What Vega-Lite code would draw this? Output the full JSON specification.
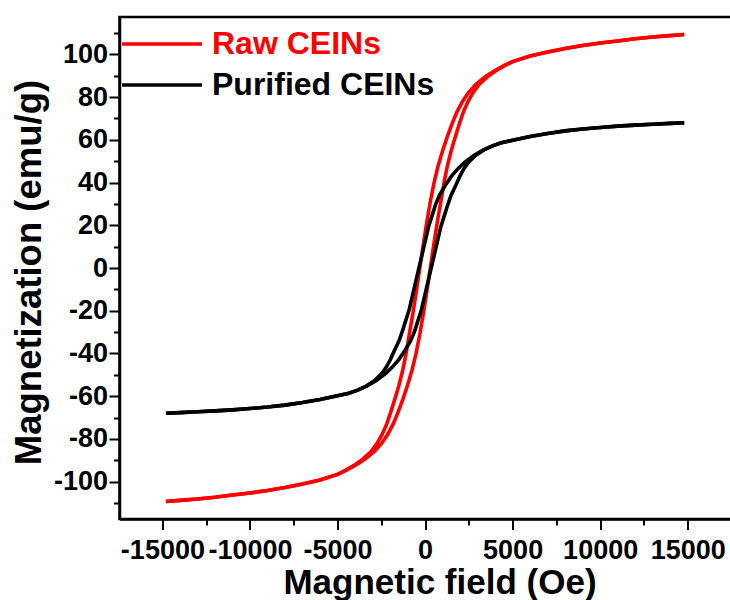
{
  "$schema": "https://vega.github.io/schema/vega-lite/v6.json",
  "width": 612,
  "height": 502,
  "autosize": {"type": "none"},
  "padding": {"left": 119.5, "top": 17, "right": 0, "bottom": 81},
  "background": "white",
  "config": {
    "font": "Liberation Sans",
    "view": {"stroke": "black", "strokeWidth": 2.5},
    "axis": {"grid": false, "domainColor": "black", "tickColor": "black", "labelColor": "black", "titleColor": "black"}
  },
  "datasets": {
    "loops": [
      {"s": "Raw CEINs", "b": "up", "H": -14800, "M": -109.3},
      {"s": "Raw CEINs", "b": "up", "H": -14000, "M": -108.8},
      {"s": "Raw CEINs", "b": "up", "H": -13000, "M": -108.1},
      {"s": "Raw CEINs", "b": "up", "H": -12000, "M": -107.3},
      {"s": "Raw CEINs", "b": "up", "H": -11000, "M": -106.3},
      {"s": "Raw CEINs", "b": "up", "H": -10000, "M": -105.3},
      {"s": "Raw CEINs", "b": "up", "H": -9000, "M": -104.2},
      {"s": "Raw CEINs", "b": "up", "H": -8000, "M": -102.8},
      {"s": "Raw CEINs", "b": "up", "H": -7000, "M": -101.1},
      {"s": "Raw CEINs", "b": "up", "H": -6000, "M": -99.2},
      {"s": "Raw CEINs", "b": "up", "H": -4995, "M": -96.6},
      {"s": "Raw CEINs", "b": "up", "H": -4485, "M": -94.6},
      {"s": "Raw CEINs", "b": "up", "H": -3965, "M": -92.3},
      {"s": "Raw CEINs", "b": "up", "H": -3440, "M": -89.5},
      {"s": "Raw CEINs", "b": "up", "H": -2905, "M": -86},
      {"s": "Raw CEINs", "b": "up", "H": -2470, "M": -82},
      {"s": "Raw CEINs", "b": "up", "H": -2140, "M": -78},
      {"s": "Raw CEINs", "b": "up", "H": -1815, "M": -73},
      {"s": "Raw CEINs", "b": "up", "H": -1540, "M": -67.5},
      {"s": "Raw CEINs", "b": "up", "H": -1270, "M": -61.5},
      {"s": "Raw CEINs", "b": "up", "H": -1005, "M": -55},
      {"s": "Raw CEINs", "b": "up", "H": -735, "M": -47.5},
      {"s": "Raw CEINs", "b": "up", "H": -515, "M": -40},
      {"s": "Raw CEINs", "b": "up", "H": -300, "M": -31},
      {"s": "Raw CEINs", "b": "up", "H": -100, "M": -21.5},
      {"s": "Raw CEINs", "b": "up", "H": 100, "M": -11},
      {"s": "Raw CEINs", "b": "up", "H": 300, "M": 0},
      {"s": "Raw CEINs", "b": "up", "H": 500, "M": 11},
      {"s": "Raw CEINs", "b": "up", "H": 700, "M": 21.5},
      {"s": "Raw CEINs", "b": "up", "H": 900, "M": 31},
      {"s": "Raw CEINs", "b": "up", "H": 1085, "M": 40},
      {"s": "Raw CEINs", "b": "up", "H": 1265, "M": 47.5},
      {"s": "Raw CEINs", "b": "up", "H": 1495, "M": 55},
      {"s": "Raw CEINs", "b": "up", "H": 1730, "M": 61.5},
      {"s": "Raw CEINs", "b": "up", "H": 1960, "M": 67.5},
      {"s": "Raw CEINs", "b": "up", "H": 2185, "M": 73},
      {"s": "Raw CEINs", "b": "up", "H": 2460, "M": 78},
      {"s": "Raw CEINs", "b": "up", "H": 2730, "M": 82},
      {"s": "Raw CEINs", "b": "up", "H": 3095, "M": 86},
      {"s": "Raw CEINs", "b": "up", "H": 3560, "M": 89.5},
      {"s": "Raw CEINs", "b": "up", "H": 4035, "M": 92.3},
      {"s": "Raw CEINs", "b": "up", "H": 4515, "M": 94.6},
      {"s": "Raw CEINs", "b": "up", "H": 5005, "M": 96.6},
      {"s": "Raw CEINs", "b": "up", "H": 6000, "M": 99.2},
      {"s": "Raw CEINs", "b": "up", "H": 7000, "M": 101.1},
      {"s": "Raw CEINs", "b": "up", "H": 8000, "M": 102.8},
      {"s": "Raw CEINs", "b": "up", "H": 9000, "M": 104.2},
      {"s": "Raw CEINs", "b": "up", "H": 10000, "M": 105.3},
      {"s": "Raw CEINs", "b": "up", "H": 11000, "M": 106.3},
      {"s": "Raw CEINs", "b": "up", "H": 12000, "M": 107.3},
      {"s": "Raw CEINs", "b": "up", "H": 13000, "M": 108.1},
      {"s": "Raw CEINs", "b": "up", "H": 14000, "M": 108.8},
      {"s": "Raw CEINs", "b": "up", "H": 14800, "M": 109.3},

      {"s": "Raw CEINs", "b": "down", "H": 14800, "M": 109.3},
      {"s": "Raw CEINs", "b": "down", "H": 14000, "M": 108.8},
      {"s": "Raw CEINs", "b": "down", "H": 13000, "M": 108.1},
      {"s": "Raw CEINs", "b": "down", "H": 12000, "M": 107.3},
      {"s": "Raw CEINs", "b": "down", "H": 11000, "M": 106.3},
      {"s": "Raw CEINs", "b": "down", "H": 10000, "M": 105.3},
      {"s": "Raw CEINs", "b": "down", "H": 9000, "M": 104.2},
      {"s": "Raw CEINs", "b": "down", "H": 8000, "M": 102.8},
      {"s": "Raw CEINs", "b": "down", "H": 7000, "M": 101.1},
      {"s": "Raw CEINs", "b": "down", "H": 6000, "M": 99.2},
      {"s": "Raw CEINs", "b": "down", "H": 4995, "M": 96.6},
      {"s": "Raw CEINs", "b": "down", "H": 4485, "M": 94.6},
      {"s": "Raw CEINs", "b": "down", "H": 3965, "M": 92.3},
      {"s": "Raw CEINs", "b": "down", "H": 3440, "M": 89.5},
      {"s": "Raw CEINs", "b": "down", "H": 2905, "M": 86},
      {"s": "Raw CEINs", "b": "down", "H": 2470, "M": 82},
      {"s": "Raw CEINs", "b": "down", "H": 2140, "M": 78},
      {"s": "Raw CEINs", "b": "down", "H": 1815, "M": 73},
      {"s": "Raw CEINs", "b": "down", "H": 1540, "M": 67.5},
      {"s": "Raw CEINs", "b": "down", "H": 1270, "M": 61.5},
      {"s": "Raw CEINs", "b": "down", "H": 1005, "M": 55},
      {"s": "Raw CEINs", "b": "down", "H": 735, "M": 47.5},
      {"s": "Raw CEINs", "b": "down", "H": 515, "M": 40},
      {"s": "Raw CEINs", "b": "down", "H": 300, "M": 31},
      {"s": "Raw CEINs", "b": "down", "H": 100, "M": 21.5},
      {"s": "Raw CEINs", "b": "down", "H": -100, "M": 11},
      {"s": "Raw CEINs", "b": "down", "H": -300, "M": 0},
      {"s": "Raw CEINs", "b": "down", "H": -500, "M": -11},
      {"s": "Raw CEINs", "b": "down", "H": -700, "M": -21.5},
      {"s": "Raw CEINs", "b": "down", "H": -900, "M": -31},
      {"s": "Raw CEINs", "b": "down", "H": -1085, "M": -40},
      {"s": "Raw CEINs", "b": "down", "H": -1265, "M": -47.5},
      {"s": "Raw CEINs", "b": "down", "H": -1495, "M": -55},
      {"s": "Raw CEINs", "b": "down", "H": -1730, "M": -61.5},
      {"s": "Raw CEINs", "b": "down", "H": -1960, "M": -67.5},
      {"s": "Raw CEINs", "b": "down", "H": -2185, "M": -73},
      {"s": "Raw CEINs", "b": "down", "H": -2460, "M": -78},
      {"s": "Raw CEINs", "b": "down", "H": -2730, "M": -82},
      {"s": "Raw CEINs", "b": "down", "H": -3095, "M": -86},
      {"s": "Raw CEINs", "b": "down", "H": -3560, "M": -89.5},
      {"s": "Raw CEINs", "b": "down", "H": -4035, "M": -92.3},
      {"s": "Raw CEINs", "b": "down", "H": -4515, "M": -94.6},
      {"s": "Raw CEINs", "b": "down", "H": -5005, "M": -96.6},
      {"s": "Raw CEINs", "b": "down", "H": -6000, "M": -99.2},
      {"s": "Raw CEINs", "b": "down", "H": -7000, "M": -101.1},
      {"s": "Raw CEINs", "b": "down", "H": -8000, "M": -102.8},
      {"s": "Raw CEINs", "b": "down", "H": -9000, "M": -104.2},
      {"s": "Raw CEINs", "b": "down", "H": -10000, "M": -105.3},
      {"s": "Raw CEINs", "b": "down", "H": -11000, "M": -106.3},
      {"s": "Raw CEINs", "b": "down", "H": -12000, "M": -107.3},
      {"s": "Raw CEINs", "b": "down", "H": -13000, "M": -108.1},
      {"s": "Raw CEINs", "b": "down", "H": -14000, "M": -108.8},
      {"s": "Raw CEINs", "b": "down", "H": -14800, "M": -109.3},

      {"s": "Purified CEINs", "b": "up", "H": -14800, "M": -68},
      {"s": "Purified CEINs", "b": "up", "H": -14000, "M": -67.7},
      {"s": "Purified CEINs", "b": "up", "H": -13000, "M": -67.3},
      {"s": "Purified CEINs", "b": "up", "H": -12000, "M": -66.9},
      {"s": "Purified CEINs", "b": "up", "H": -11000, "M": -66.4},
      {"s": "Purified CEINs", "b": "up", "H": -10000, "M": -65.8},
      {"s": "Purified CEINs", "b": "up", "H": -9000, "M": -65.1},
      {"s": "Purified CEINs", "b": "up", "H": -8000, "M": -64.2},
      {"s": "Purified CEINs", "b": "up", "H": -7000, "M": -63},
      {"s": "Purified CEINs", "b": "up", "H": -6000, "M": -61.6},
      {"s": "Purified CEINs", "b": "up", "H": -5000, "M": -59.8},
      {"s": "Purified CEINs", "b": "up", "H": -4350, "M": -58.6},
      {"s": "Purified CEINs", "b": "up", "H": -3850, "M": -57.2},
      {"s": "Purified CEINs", "b": "up", "H": -3340, "M": -55.3},
      {"s": "Purified CEINs", "b": "up", "H": -2805, "M": -52.8},
      {"s": "Purified CEINs", "b": "up", "H": -2240, "M": -49.3},
      {"s": "Purified CEINs", "b": "up", "H": -1880, "M": -46.5},
      {"s": "Purified CEINs", "b": "up", "H": -1510, "M": -43},
      {"s": "Purified CEINs", "b": "up", "H": -1150, "M": -38.6},
      {"s": "Purified CEINs", "b": "up", "H": -820, "M": -34},
      {"s": "Purified CEINs", "b": "up", "H": -600, "M": -29.7},
      {"s": "Purified CEINs", "b": "up", "H": -400, "M": -24.5},
      {"s": "Purified CEINs", "b": "up", "H": -200, "M": -19.3},
      {"s": "Purified CEINs", "b": "up", "H": 0, "M": -12.2},
      {"s": "Purified CEINs", "b": "up", "H": 200, "M": -5.2},
      {"s": "Purified CEINs", "b": "up", "H": 350, "M": 0},
      {"s": "Purified CEINs", "b": "up", "H": 500, "M": 5.2},
      {"s": "Purified CEINs", "b": "up", "H": 700, "M": 12.2},
      {"s": "Purified CEINs", "b": "up", "H": 900, "M": 19.3},
      {"s": "Purified CEINs", "b": "up", "H": 1100, "M": 24.5},
      {"s": "Purified CEINs", "b": "up", "H": 1300, "M": 29.7},
      {"s": "Purified CEINs", "b": "up", "H": 1480, "M": 34},
      {"s": "Purified CEINs", "b": "up", "H": 1750, "M": 38.6},
      {"s": "Purified CEINs", "b": "up", "H": 1990, "M": 43},
      {"s": "Purified CEINs", "b": "up", "H": 2220, "M": 46.5},
      {"s": "Purified CEINs", "b": "up", "H": 2460, "M": 49.3},
      {"s": "Purified CEINs", "b": "up", "H": 2895, "M": 52.8},
      {"s": "Purified CEINs", "b": "up", "H": 3360, "M": 55.3},
      {"s": "Purified CEINs", "b": "up", "H": 3850, "M": 57.2},
      {"s": "Purified CEINs", "b": "up", "H": 4350, "M": 58.6},
      {"s": "Purified CEINs", "b": "up", "H": 5000, "M": 59.8},
      {"s": "Purified CEINs", "b": "up", "H": 6000, "M": 61.6},
      {"s": "Purified CEINs", "b": "up", "H": 7000, "M": 63},
      {"s": "Purified CEINs", "b": "up", "H": 8000, "M": 64.2},
      {"s": "Purified CEINs", "b": "up", "H": 9000, "M": 65.1},
      {"s": "Purified CEINs", "b": "up", "H": 10000, "M": 65.8},
      {"s": "Purified CEINs", "b": "up", "H": 11000, "M": 66.4},
      {"s": "Purified CEINs", "b": "up", "H": 12000, "M": 66.9},
      {"s": "Purified CEINs", "b": "up", "H": 13000, "M": 67.3},
      {"s": "Purified CEINs", "b": "up", "H": 14000, "M": 67.7},
      {"s": "Purified CEINs", "b": "up", "H": 14800, "M": 68},

      {"s": "Purified CEINs", "b": "down", "H": 14800, "M": 68},
      {"s": "Purified CEINs", "b": "down", "H": 14000, "M": 67.7},
      {"s": "Purified CEINs", "b": "down", "H": 13000, "M": 67.3},
      {"s": "Purified CEINs", "b": "down", "H": 12000, "M": 66.9},
      {"s": "Purified CEINs", "b": "down", "H": 11000, "M": 66.4},
      {"s": "Purified CEINs", "b": "down", "H": 10000, "M": 65.8},
      {"s": "Purified CEINs", "b": "down", "H": 9000, "M": 65.1},
      {"s": "Purified CEINs", "b": "down", "H": 8000, "M": 64.2},
      {"s": "Purified CEINs", "b": "down", "H": 7000, "M": 63},
      {"s": "Purified CEINs", "b": "down", "H": 6000, "M": 61.6},
      {"s": "Purified CEINs", "b": "down", "H": 5000, "M": 59.8},
      {"s": "Purified CEINs", "b": "down", "H": 4350, "M": 58.6},
      {"s": "Purified CEINs", "b": "down", "H": 3850, "M": 57.2},
      {"s": "Purified CEINs", "b": "down", "H": 3340, "M": 55.3},
      {"s": "Purified CEINs", "b": "down", "H": 2805, "M": 52.8},
      {"s": "Purified CEINs", "b": "down", "H": 2240, "M": 49.3},
      {"s": "Purified CEINs", "b": "down", "H": 1880, "M": 46.5},
      {"s": "Purified CEINs", "b": "down", "H": 1510, "M": 43},
      {"s": "Purified CEINs", "b": "down", "H": 1150, "M": 38.6},
      {"s": "Purified CEINs", "b": "down", "H": 820, "M": 34},
      {"s": "Purified CEINs", "b": "down", "H": 600, "M": 29.7},
      {"s": "Purified CEINs", "b": "down", "H": 400, "M": 24.5},
      {"s": "Purified CEINs", "b": "down", "H": 200, "M": 19.3},
      {"s": "Purified CEINs", "b": "down", "H": 0, "M": 12.2},
      {"s": "Purified CEINs", "b": "down", "H": -200, "M": 5.2},
      {"s": "Purified CEINs", "b": "down", "H": -350, "M": 0},
      {"s": "Purified CEINs", "b": "down", "H": -500, "M": -5.2},
      {"s": "Purified CEINs", "b": "down", "H": -700, "M": -12.2},
      {"s": "Purified CEINs", "b": "down", "H": -900, "M": -19.3},
      {"s": "Purified CEINs", "b": "down", "H": -1100, "M": -24.5},
      {"s": "Purified CEINs", "b": "down", "H": -1300, "M": -29.7},
      {"s": "Purified CEINs", "b": "down", "H": -1480, "M": -34},
      {"s": "Purified CEINs", "b": "down", "H": -1750, "M": -38.6},
      {"s": "Purified CEINs", "b": "down", "H": -1990, "M": -43},
      {"s": "Purified CEINs", "b": "down", "H": -2220, "M": -46.5},
      {"s": "Purified CEINs", "b": "down", "H": -2460, "M": -49.3},
      {"s": "Purified CEINs", "b": "down", "H": -2895, "M": -52.8},
      {"s": "Purified CEINs", "b": "down", "H": -3360, "M": -55.3},
      {"s": "Purified CEINs", "b": "down", "H": -3850, "M": -57.2},
      {"s": "Purified CEINs", "b": "down", "H": -4350, "M": -58.6},
      {"s": "Purified CEINs", "b": "down", "H": -5000, "M": -59.8},
      {"s": "Purified CEINs", "b": "down", "H": -6000, "M": -61.6},
      {"s": "Purified CEINs", "b": "down", "H": -7000, "M": -63},
      {"s": "Purified CEINs", "b": "down", "H": -8000, "M": -64.2},
      {"s": "Purified CEINs", "b": "down", "H": -9000, "M": -65.1},
      {"s": "Purified CEINs", "b": "down", "H": -10000, "M": -65.8},
      {"s": "Purified CEINs", "b": "down", "H": -11000, "M": -66.4},
      {"s": "Purified CEINs", "b": "down", "H": -12000, "M": -66.9},
      {"s": "Purified CEINs", "b": "down", "H": -13000, "M": -67.3},
      {"s": "Purified CEINs", "b": "down", "H": -14000, "M": -67.7},
      {"s": "Purified CEINs", "b": "down", "H": -14800, "M": -68}
    ]
  },
  "data": {"name": "loops"},
  "layer": [
    {
      "mark": {"type": "line", "strokeWidth": 3.6},
      "encoding": {
        "x": {
          "field": "H", "type": "quantitative",
          "scale": {"domain": [-17450, 17500], "nice": false, "zero": false},
          "axis": {
            "orient": "bottom",
            "values": [-15000, -10000, -5000, 0, 5000, 10000, 15000],
            "labelExpr": "datum.value + ''",
            "domainWidth": 2.5, "tickSize": 10.5, "tickWidth": 2,
            "labelFontSize": 27, "labelFontWeight": "bold", "labelBaseline": "alphabetic", "labelPadding": 29,
            "labelFlush": false, "labelOverlap": false,
            "title": "Magnetic field (Oe)", "titleFontSize": 35, "titleFontWeight": "bold",
            "titleBaseline": "alphabetic", "titleX": 320, "titleY": 74.5
          }
        },
        "y": {
          "field": "M", "type": "quantitative",
          "scale": {"domain": [-117.5, 117.5], "nice": false, "zero": false},
          "axis": {
            "orient": "left",
            "values": [-100, -80, -60, -40, -20, 0, 20, 40, 60, 80, 100],
            "labelExpr": "datum.value + ''",
            "domainWidth": 2.5, "tickSize": 10.5, "tickWidth": 2,
            "labelFontSize": 27, "labelFontWeight": "bold", "labelPadding": 1.5,
            "labelFlush": false, "labelOverlap": false,
            "title": "Magnetization (emu/g)", "titleFontSize": 36.5, "titleFontWeight": "bold",
            "titleBaseline": "alphabetic", "titleX": -79.5, "titleY": 255
          }
        },
        "color": {
          "field": "s", "type": "nominal",
          "scale": {"domain": ["Raw CEINs", "Purified CEINs"], "range": ["#ff0000", "#000000"]},
          "legend": {
            "orient": "none", "legendX": 26.5, "legendY": 11, "title": null, "padding": 0,
            "symbolType": "M-4,0H4", "symbolSize": 400, "symbolStrokeWidth": 3.6,
            "labelFont": "Liberation Sans", "labelFontSize": 32, "labelFontWeight": "bold",
            "labelOffset": 34, "rowPadding": 9, "labelLimit": 400,
            "encode": {"labels": {"update": {"fill": {"signal": "datum.value === 'Raw CEINs' ? '#ff0000' : '#000000'"}}}}
          }
        },
        "detail": {"field": "b"}
      }
    },
    {
      "mark": {"type": "point", "opacity": 0},
      "encoding": {
        "x": {
          "field": "H", "type": "quantitative",
          "axis": {
            "orient": "bottom", "values": [-12500, -7500, -2500, 2500, 7500, 12500],
            "labels": false, "domain": false, "tickSize": 6, "tickWidth": 2, "title": null
          }
        },
        "y": {
          "field": "M", "type": "quantitative",
          "axis": {
            "orient": "left", "values": [-110, -90, -70, -50, -30, -10, 10, 30, 50, 70, 90, 110],
            "labels": false, "domain": false, "tickSize": 6, "tickWidth": 2, "title": null
          }
        }
      }
    }
  ],
  "resolve": {"axis": {"x": "independent", "y": "independent"}}
}
